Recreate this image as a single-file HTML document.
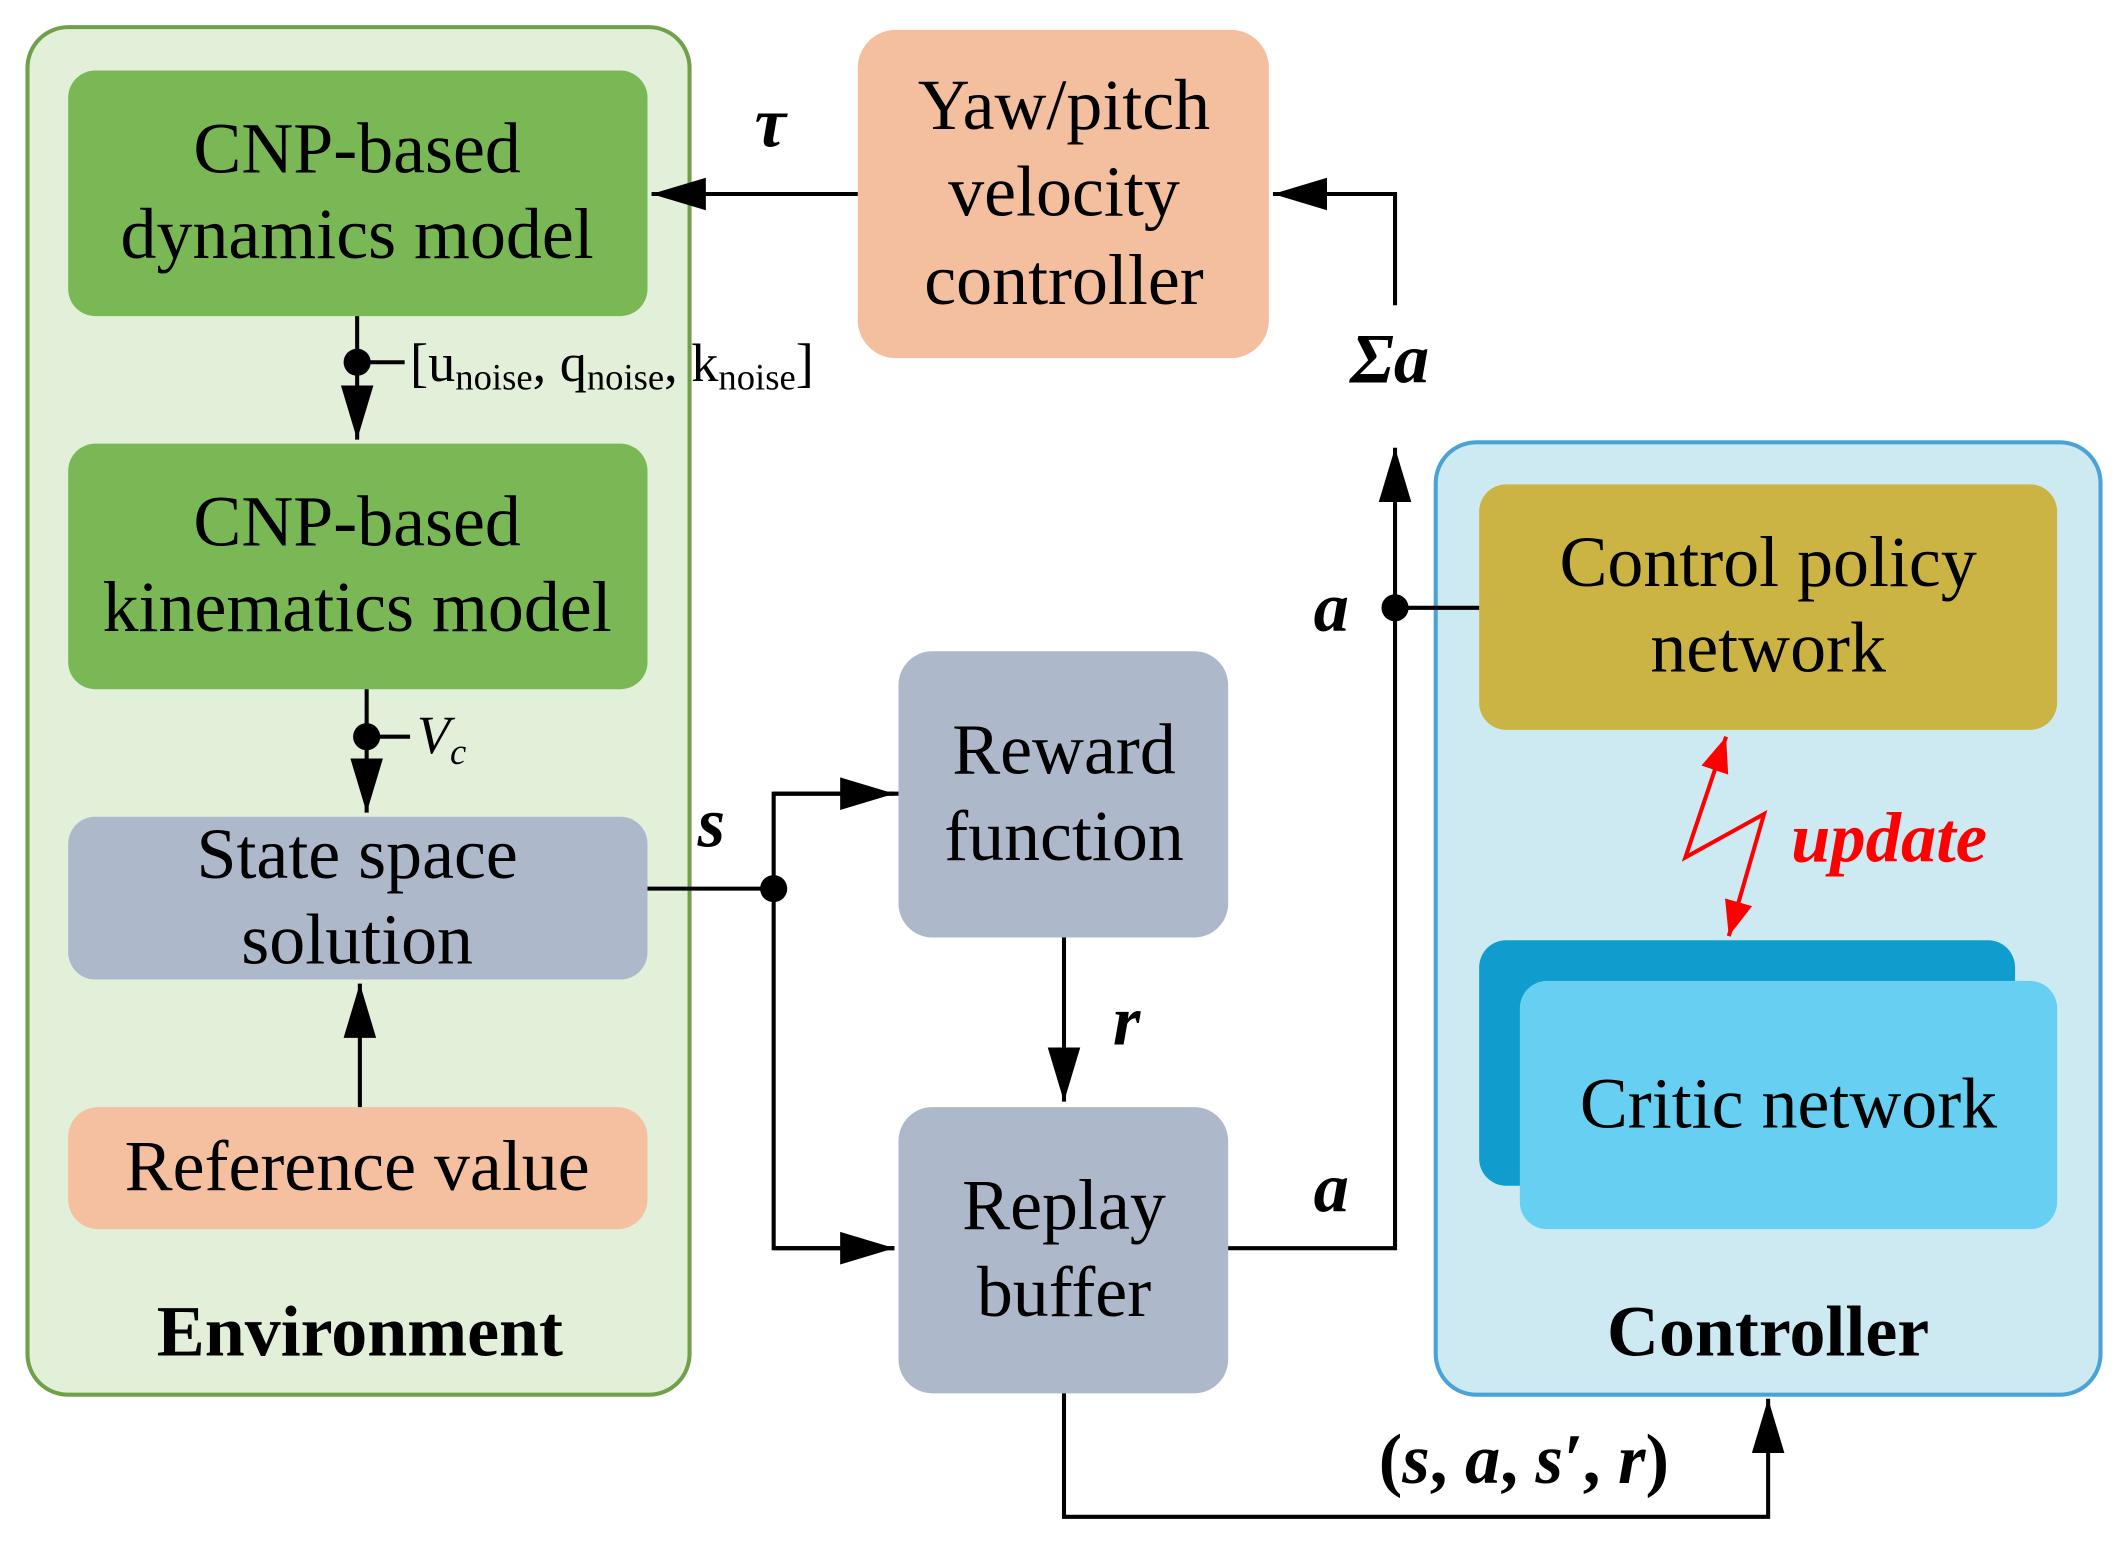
<!DOCTYPE html>
<html><head><meta charset="utf-8"><style>html,body{margin:0;padding:0;background:#fff}svg{display:block}</style></head>
<body>
<svg width="2128" height="1548" viewBox="0 0 1568 1141" xmlns="http://www.w3.org/2000/svg" font-family="Liberation Serif, serif">
<defs>
<marker id="ab" viewBox="0 0 10 10" refX="10" refY="5" markerWidth="40" markerHeight="40" markerUnits="userSpaceOnUse" orient="auto"><path d="M0,2 L10,5 L0,8 z" fill="#000"/></marker>
<marker id="ar" viewBox="0 0 10 10" refX="10" refY="5" markerWidth="26" markerHeight="26" markerUnits="userSpaceOnUse" orient="auto-start-reverse"><path d="M0,1 L10,5 L0,9 z" fill="#f00"/></marker>
</defs>
<rect x="20" y="20" width="488" height="1008" rx="30" fill="#e2efd9" stroke="#70a14a" stroke-width="3"/>
<rect x="1058" y="326" width="490" height="702" rx="30" fill="#cdeaf3" stroke="#4aa3d6" stroke-width="3"/>
<rect x="50" y="52" width="427" height="181" rx="20" fill="#7ab856"/>
<rect x="50" y="327" width="427" height="181" rx="20" fill="#7ab856"/>
<rect x="50" y="602" width="427" height="120" rx="20" fill="#adb9ca"/>
<rect x="50" y="816" width="427" height="90" rx="22" fill="#f4c0a0"/>
<rect x="632" y="22" width="303" height="242" rx="28" fill="#f4bf9f"/>
<rect x="662" y="480" width="243" height="211" rx="25" fill="#adb9ca"/>
<rect x="662" y="816" width="243" height="211" rx="25" fill="#adb9ca"/>
<rect x="1090" y="357" width="426" height="181" rx="20" fill="#cbb443"/>
<rect x="1090" y="693" width="395" height="181" rx="20" fill="#109ccc"/>
<rect x="1120" y="723" width="396" height="183" rx="20" fill="#66cff2"/>
<g font-size="53" text-anchor="middle" fill="#000">
<text x="263" y="127">CNP-based</text><text x="263" y="190">dynamics model</text>
<text x="263" y="402">CNP-based</text><text x="263" y="465">kinematics model</text>
<text x="263" y="647">State space</text><text x="263" y="710">solution</text>
<text x="263" y="877">Reference value</text>
<text x="784" y="95">Yaw/pitch</text><text x="784" y="159">velocity</text><text x="784" y="224">controller</text>
<text x="784" y="570">Reward</text><text x="784" y="634">function</text>
<text x="784" y="906">Replay</text><text x="784" y="970">buffer</text>
<text x="1303" y="432">Control policy</text><text x="1303" y="495">network</text>
<text x="1318" y="831">Critic network</text>
<text x="265" y="999" font-weight="bold">Environment</text>
<text x="1303" y="999" font-weight="bold">Controller</text>
</g>
<g stroke="#000" stroke-width="3" fill="none">
<line x1="632" y1="143" x2="480" y2="143" marker-end="url(#ab)"/>
<polyline points="1028,225 1028,143 938,143" marker-end="url(#ab)"/>
<polyline points="905,920 1028,920 1028,330" marker-end="url(#ab)"/>
<line x1="1028" y1="448" x2="1090" y2="448"/>
<line x1="263" y1="233" x2="263" y2="324" marker-end="url(#ab)"/>
<line x1="263" y1="267" x2="298" y2="267"/>
<line x1="270" y1="508" x2="270" y2="599" marker-end="url(#ab)"/>
<line x1="270" y1="543" x2="302" y2="543"/>
<line x1="265" y1="816" x2="265" y2="725" marker-end="url(#ab)"/>
<line x1="477" y1="655" x2="570" y2="655"/>
<polyline points="662,585 570,585 570,920 659,920"/>
<line x1="570" y1="585" x2="659" y2="585" marker-end="url(#ab)"/>
<line x1="570" y1="920" x2="659" y2="920" marker-end="url(#ab)"/>
<line x1="784" y1="691" x2="784" y2="812" marker-end="url(#ab)"/>
<polyline points="784,1027 784,1118 1303,1118 1303,1031" marker-end="url(#ab)"/>
</g>
<g fill="#000"><circle cx="1028" cy="448" r="10"/><circle cx="263" cy="267" r="10"/><circle cx="270" cy="543" r="10"/><circle cx="570" cy="655" r="10"/></g>
<polyline points="1272,543 1242,632 1300,600 1274,690" fill="none" stroke="#f00" stroke-width="3" marker-start="url(#ar)" marker-end="url(#ar)"/>
<g font-weight="bold" font-style="italic" font-size="52" fill="#000">
<text x="556" y="108">τ</text>
<text x="995" y="282">Σa</text>
<text x="968" y="465">a</text>
<text x="968" y="893">a</text>
<text x="514" y="624">s</text>
<text x="820" y="770">r</text>
<text x="1016" y="1093" font-style="normal">(<tspan font-style="italic">s</tspan>, <tspan font-style="italic">a</tspan>, <tspan font-style="italic">s′</tspan>, <tspan font-style="italic">r</tspan>)</text>
<text x="1320" y="635" fill="#f00">update</text>
</g>
<text x="302" y="281" font-size="40">[u<tspan font-size="27" dy="6">noise</tspan><tspan dy="-6">, q</tspan><tspan font-size="27" dy="6">noise</tspan><tspan dy="-6">, k</tspan><tspan font-size="27" dy="6">noise</tspan><tspan dy="-6">]</tspan></text>
<text x="307" y="555" font-size="40" font-style="italic">V<tspan font-size="27" dy="8">c</tspan></text>
</svg>
</body></html>
